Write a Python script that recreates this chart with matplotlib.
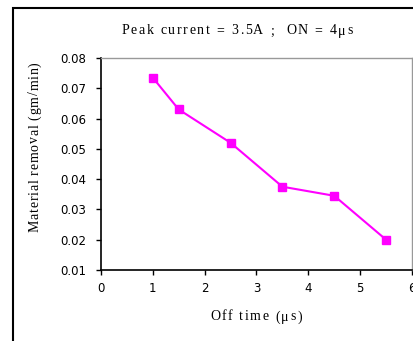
import matplotlib
matplotlib.use("Agg")
import matplotlib.pyplot as plt
from matplotlib.patches import Rectangle
from matplotlib.font_manager import FontProperties

off_time = [1, 1.5, 2.5, 3.5, 4.5, 5.5]
mrr = [0.0735, 0.063, 0.052, 0.0375, 0.0345, 0.020]
x_ticks = [0, 1, 2, 3, 4, 5, 6]
y_ticks = [0.01, 0.02, 0.03, 0.04, 0.05, 0.06, 0.07, 0.08]
title = "Peak current = 3.5A ;  ON = 4μs"
xlabel = "Off time (μs)"
ylabel = "Material removal (gm/min)"

W, H = 414, 341
fig = plt.figure(figsize=(W / 100, H / 100), dpi=100)
fig.patch.set_facecolor("white")

# outer chart border
fig.patches.append(Rectangle((13 / W, -0.1), 1.2, (H - 8) / H + 0.1,
                             transform=fig.transFigure, fill=False,
                             edgecolor="black", linewidth=1.5, zorder=0))

ax = fig.add_axes([101 / W, 1 - 270 / H, (412 - 101) / W, (270 - 58) / H])
ax.plot(off_time, mrr, color="#ff00ff", linewidth=1.5, marker="s",
        markersize=6, markerfacecolor="#ff00ff", markeredgecolor="#ff00ff")

ax.set_xlim(0, 6)
ax.set_ylim(0.01, 0.08)
ax.set_xticks(x_ticks)
ax.set_yticks(y_ticks)
ax.set_xticklabels([str(v) for v in x_ticks])
ax.set_yticklabels([f"{v:.2f}" for v in y_ticks])
ax.tick_params(labelsize=8.5, length=3.5, width=1, direction="out",
               labelfontfamily="DejaVu Sans")
ax.tick_params(axis="y", pad=7)
ax.tick_params(axis="x", pad=5)
for s in ["left", "bottom"]:
    ax.spines[s].set_color("black")
    ax.spines[s].set_linewidth(1.2)
for s in ["top", "right"]:
    ax.spines[s].set_color("#999999")
    ax.spines[s].set_linewidth(1.0)

renderer = fig.canvas.get_renderer()


def tracked(s, cx, cy, target, size, rotation=0):
    fp = FontProperties(family="Liberation Serif", size=size)
    widths = [renderer.get_text_width_height_descent(c, fp, ismath=False)[0]
              for c in s]
    natural = sum(widths)
    extra = (target - natural) / (len(s) - 1)
    pos = -target / 2
    for c, w in zip(s, widths):
        if rotation == 0:
            fig.text((cx + pos) / W, 1 - cy / H, c, ha="left", va="center",
                     fontproperties=fp)
        else:
            fig.text(cx / W, 1 - (cy - pos) / H, c, ha="left", va="center",
                     rotation=90, rotation_mode="anchor", fontproperties=fp)
        pos += w + extra


tracked(title, 237, 31, 231, 10)
tracked(xlabel, 256, 317, 92, 10)
tracked(ylabel, 35, 147, 170, 10, rotation=90)

fig.savefig("out.png", dpi=100)
